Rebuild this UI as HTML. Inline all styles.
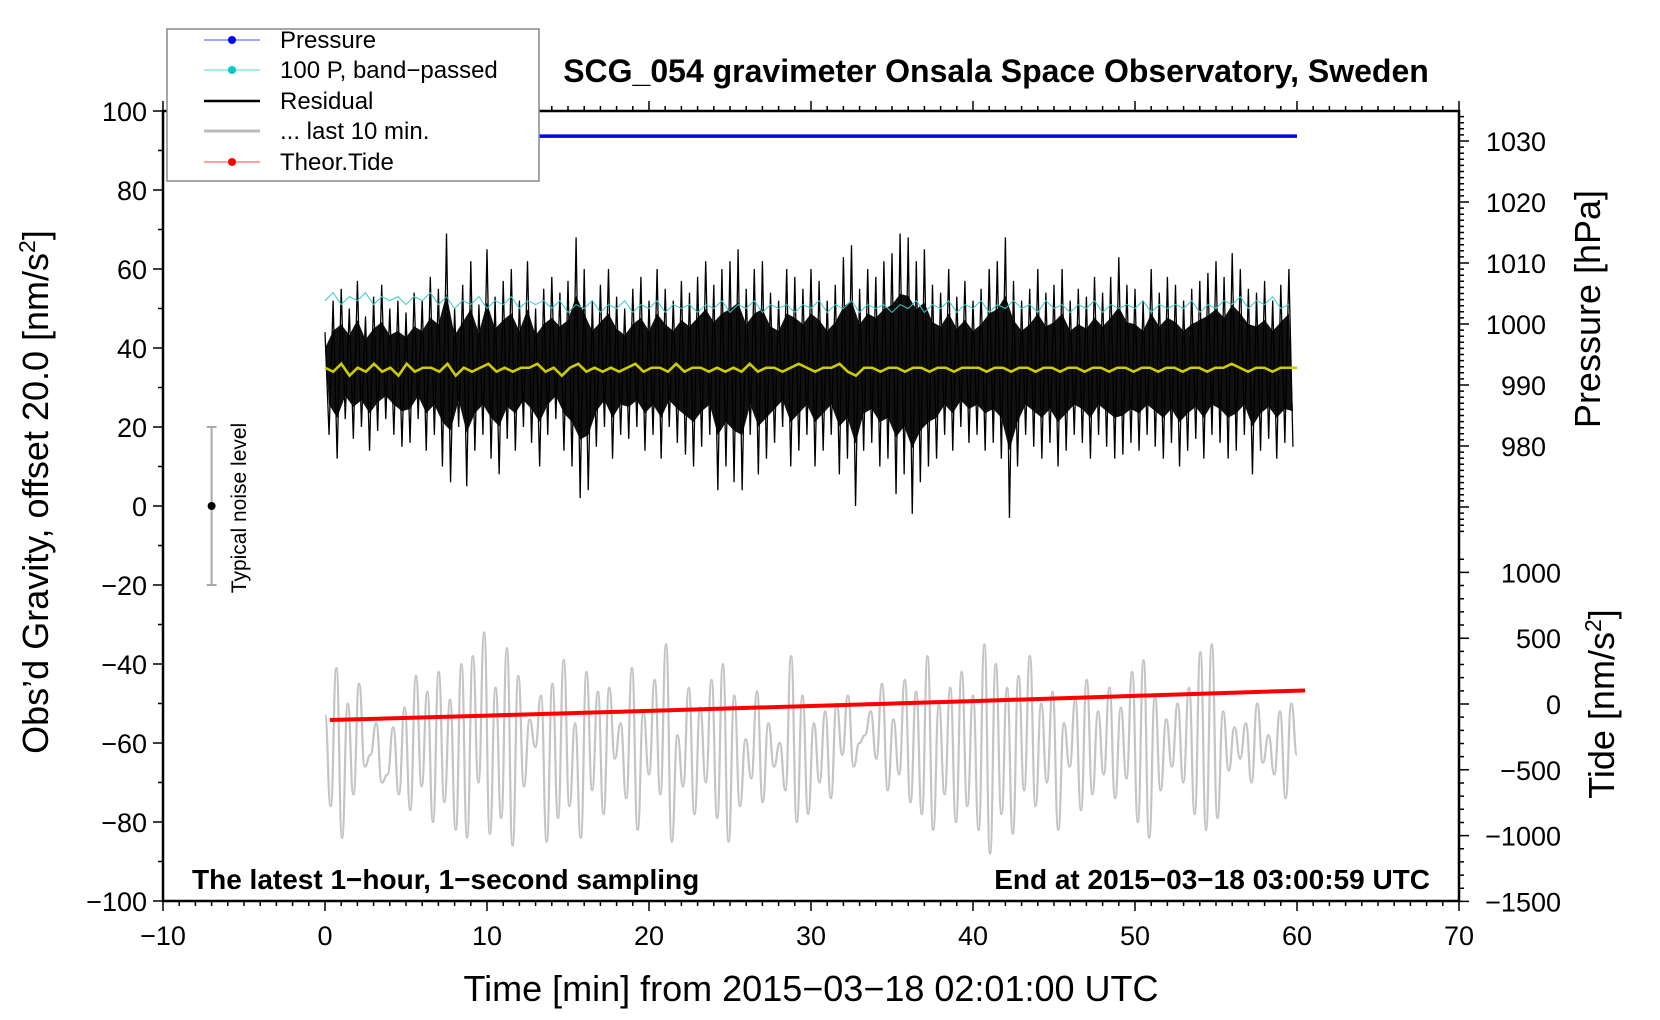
<!DOCTYPE html>
<html><head><meta charset="utf-8"><style>
html,body{margin:0;padding:0;background:#fff;}
svg{display:block;font-family:"Liberation Sans",Arial,sans-serif;}
</style></head><body>
<svg id="chart" width="1660" height="1020" viewBox="0 0 1660 1020" xmlns="http://www.w3.org/2000/svg">
<g id="marks"></g>
<g id="axes"></g>
<text x="996" y="82" text-anchor="middle" font-size="32" font-weight="bold">SCG_054 gravimeter Onsala Space Observatory, Sweden</text>
<text x="192" y="889" font-size="28" font-weight="bold">The latest 1−hour, 1−second sampling</text>
<text x="1430" y="889" text-anchor="end" font-size="28" font-weight="bold">End at 2015−03−18 03:00:59 UTC</text>
<text x="811" y="1001" text-anchor="middle" font-size="36">Time [min] from 2015−03−18 02:01:00 UTC</text>
<text transform="translate(48,492) rotate(-90)" text-anchor="middle" font-size="36">Obs’d Gravity, offset 20.0 [nm/s<tspan font-size="23" dy="-13">2</tspan><tspan dy="13">]</tspan></text>
<text transform="translate(1600,309) rotate(-90)" text-anchor="middle" font-size="36">Pressure [hPa]</text>
<text transform="translate(1614,704) rotate(-90)" text-anchor="middle" font-size="36">Tide [nm/s<tspan font-size="23" dy="-13">2</tspan><tspan dy="13">]</tspan></text>
<g>
<text transform="translate(246,508) rotate(-90)" text-anchor="middle" font-size="21">Typical noise level</text>
</g>
<g>
<rect x="167" y="29" width="372" height="152" fill="#fff" stroke="#888" stroke-width="1.5"/>
<g><line x1="204" y1="40" x2="260" y2="40" stroke="#44f" stroke-width="1"/><circle cx="232" cy="40" r="4" fill="#00f"/><text x="280" y="48" font-size="24">Pressure</text></g>
<g><line x1="204" y1="70" x2="260" y2="70" stroke="#4dd" stroke-width="1"/><circle cx="232" cy="70" r="4" fill="#0cc"/><text x="280" y="78" font-size="24">100 P, band−passed</text></g>
<g><line x1="204" y1="101" x2="260" y2="101" stroke="#000" stroke-width="2.5"/><text x="280" y="109" font-size="24">Residual</text></g>
<g><line x1="204" y1="131" x2="260" y2="131" stroke="#bbb" stroke-width="3"/><text x="280" y="139" font-size="24">... last 10 min.</text></g>
<g><line x1="204" y1="162" x2="260" y2="162" stroke="#f44" stroke-width="1"/><circle cx="232" cy="162" r="4" fill="#f00"/><text x="280" y="170" font-size="24">Theor.Tide</text></g>
</g>
</svg>
<script>
// ---- data ----
const pressureTimes = [0, 60];
const pressureValues = [1030.8, 1030.8];
const tideTimes = [0.3, 10, 20, 30, 40, 50, 60.5];
const tideValues = [-122, -88, -52, -15, 22, 62, 103];
const residualHi = [44,52,55,50,57,48,53,56,50,52, 49,54,52,58,55,69,50,56,62,51, 65,53,57,60,52,62,50,55,58,54, 57,68,60,52,56,60,53,50,55,58, 52,60,55,52,57,54,58,62,56,60, 62,65,55,60,62,54,52,60,58,55, 60,57,52,56,63,66,55,60,58,62, 64,69,68,62,65,56,54,60,53,57, 52,55,60,62,68,57,52,55,60,54, 56,60,52,55,53,58,54,58,63,56, 55,52,60,54,58,56,52,55,57,59, 62,58,64,60,55,54,57,52,56,60];
const residualLo = [18,12,22,17,20,14,19,22,18,15, 16,22,14,18,10,6,20,5,14,18, 12,8,17,14,20,16,10,18,22,14, 10,2,4,15,20,12,18,17,20,14, 18,12,20,16,13,10,15,18,4,10, 6,4,18,8,12,16,20,10,14,18, 10,14,18,8,12,0,14,16,10,12, 3,8,-2,6,10,12,18,14,20,16, 18,14,16,12,-3,10,18,15,12,16, 10,14,18,16,12,18,15,12,13,16, 14,18,15,12,16,10,14,17,12,18, 16,12,14,18,8,14,17,12,16,15];
const bandPassed = [52,54,51,53,52,54,51,53,52,53, 51,53,52,54,51,53,50,52,51,53, 50,52,51,53,50,52,51,52,50,52, 49,51,50,52,49,51,50,52,49,51, 50,52,49,51,50,51,49,51,50,52, 49,51,50,52,49,51,50,51,49,51, 50,52,49,51,50,52,49,51,50,51, 49,51,50,52,49,51,50,52,49,51, 50,52,49,51,50,52,50,51,49,52, 50,51,49,51,50,52,49,51,50,51, 50,52,49,51,50,51,50,52,49,51, 50,52,51,53,50,52,51,53,50,51];
const smoothed = [35,34,36,33,35,34,36,34,35,33, 36,34,35,35,34,36,33,35,34,35, 36,34,35,34,35,35,36,34,35,33, 35,36,34,35,34,35,34,35,36,34, 35,35,34,36,34,35,35,34,35,34, 35,34,36,34,35,35,34,35,36,35, 34,35,35,36,34,33,35,35,34,35, 35,34,35,35,34,35,35,34,35,35, 35,34,35,35,34,35,35,34,35,35, 34,35,35,34,35,35,34,35,35,34, 35,35,34,35,35,34,35,35,34,35, 35,36,35,34,35,35,34,35,35,35];
const last10 = [-53,-76,-41,-84,-50,-73,-45,-66,-63,-55,-70,-68,-56,-73,-51,-77,-43,-71,-47,-80,-42,-75,-49,-82,-40,-84,-38,-70,-32,-83,-46,-79,-36,-86,-43,-71,-54,-61,-48,-85,-45,-79,-39,-76,-55,-84,-42,-72,-47,-78,-46,-64,-55,-74,-41,-82,-52,-68,-44,-73,-35,-85,-58,-71,-46,-78,-51,-70,-44,-79,-40,-85,-48,-76,-59,-69,-47,-75,-55,-66,-60,-72,-38,-80,-48,-78,-55,-70,-52,-74,-50,-63,-48,-66,-60,-58,-52,-64,-45,-72,-54,-68,-44,-75,-47,-78,-38,-82,-50,-73,-46,-80,-42,-76,-48,-82,-35,-88,-40,-78,-46,-83,-43,-72,-38,-76,-50,-70,-47,-82,-55,-66,-49,-77,-44,-73,-52,-68,-46,-74,-51,-69,-42,-80,-39,-84,-48,-72,-54,-66,-50,-70,-46,-78,-37,-82,-35,-79,-52,-67,-56,-64,-55,-70,-50,-65,-58,-68,-52,-74,-50,-63];
const xTicks = [-10,0,10,20,30,40,50,60,70];
const yTicks = [-100,-80,-60,-40,-20,0,20,40,60,80,100];
const pTicks = [980,990,1000,1010,1020,1030];
const tTicks = [-1500,-1000,-500,0,500,1000];

// ---- scales ----
const L=163,R=1459,T=111,B=901;
const xs=t=>L+(t+10)*(R-L)/80;
const gy=v=>T+(100-v)*(B-T)/200;
const py=p=>141+(1030-p)*6.1;
const ty=v=>704-v*0.1316;
const NS='http://www.w3.org/2000/svg';
const marks=document.getElementById('marks'), axes=document.getElementById('axes');
function mk(tag,attrs,parent){const e=document.createElementNS(NS,tag);for(const k in attrs)e.setAttribute(k,attrs[k]);parent.appendChild(e);return e;}

// residual core band + spiky zigzag
let core=[];
residualHi.forEach((h,i)=>core.push(xs(i*0.5)+','+gy(35+(h-35)*0.55)));
for(let i=residualLo.length-1;i>=0;i--)core.push(xs(i*0.5+0.25)+','+gy(35-(35-residualLo[i])*0.55));
const coreEl=mk('polygon',{points:core.join(' '),fill:'#111'},marks);


let zz=[];
residualHi.forEach((h,i)=>{zz.push(xs(i*0.5)+','+gy(h));zz.push(xs(i*0.5+0.25)+','+gy(residualLo[i]));});
const resEl=mk('polyline',{points:zz.join(' '),fill:'none',stroke:'#000','stroke-width':1.3},marks);



// band-passed pressure
const bpEl=mk('polyline',{points:bandPassed.map((v,i)=>xs(i*0.5)+','+gy(v)).join(' '),fill:'none',stroke:'#3cc','stroke-width':1},marks);



// smoothed residual (yellow)
const smEl=mk('polyline',{points:smoothed.map((v,i)=>xs(i*60/(smoothed.length-1))+','+gy(v)).join(' '),fill:'none',stroke:'#cc0','stroke-width':2.6},marks);



// last 10 min (grey), smoothed curve
let d='';const st=60/(last10.length-1);
last10.forEach((v,i)=>{const x=xs(i*st),y=gy(v);if(i===0)d+='M'+x+' '+y;else{const px=xs((i-1)*st),pyv=gy(last10[i-1]);const mx=(px+x)/2;d+=' C'+mx+' '+pyv+' '+mx+' '+y+' '+x+' '+y;}});
const grEl=mk('path',{d:d,fill:'none',stroke:'#c4c4c4','stroke-width':2.2},marks);



// tide
const tdEl=mk('polyline',{points:tideTimes.map((t,i)=>xs(t)+','+ty(tideValues[i])).join(' '),fill:'none',stroke:'#f00','stroke-width':4},marks);



// pressure
const prEl=mk('polyline',{points:pressureTimes.map((t,i)=>xs(t)+','+py(pressureValues[i])).join(' '),fill:'none',stroke:'#00f','stroke-width':3.5},marks);



// noise indicator
const nx=xs(-7);
const nb=mk('path',{d:`M${nx-5} ${gy(20)}H${nx+5}M${nx} ${gy(20)}V${gy(-20)}M${nx-5} ${gy(-20)}H${nx+5}`,stroke:'#aaa','stroke-width':2,fill:'none'},marks);


const nd=mk('circle',{cx:nx,cy:gy(0),r:4,fill:'#000'},marks);



// frame
const fr=mk('rect',{x:L,y:T,width:R-L,height:B-T,fill:'none',stroke:'#000','stroke-width':2.5},axes);



// ticks
let tk='';
for(let t=-10;t<=70;t++){const x=xs(t);const len=t%10===0?10:5;tk+=`M${x} ${B}V${B+len}M${x} ${T}V${T-len}`;}
for(let v=-100;v<=100;v+=10){const y=gy(v);const len=v%20===0?10:5;tk+=`M${L} ${y}H${L-len}`;}
for(let p=966;p<=1034;p++){const y=py(p);const len=p%10===0?10:5;tk+=`M${R} ${y}H${R+len}`;}
for(let v=-1500;v<=1100;v+=100){const y=ty(v);const len=v%500===0?10:5;tk+=`M${R} ${y}H${R+len}`;}
const tkEl=mk('path',{d:tk,stroke:'#000','stroke-width':1.5,fill:'none'},axes);



function lab(x,y,s,anchor,name){const e=mk('text',{x:x,y:y,'text-anchor':anchor,'font-size':27},axes);e.textContent=s;

}
const fmt=v=>String(v).replace('-','−');
xTicks.forEach(t=>lab(xs(t),B+44,fmt(t),'middle','x-tick-label'));
yTicks.forEach(v=>lab(L-16,gy(v)+10,fmt(v),'end','y-tick-label'));
pTicks.forEach(p=>lab(1546,py(p)+10,fmt(p),'end','pressure-tick-label'));
tTicks.forEach(v=>lab(1561,ty(v)+10,fmt(v),'end','tide-tick-label'));
</script>
</body></html>
